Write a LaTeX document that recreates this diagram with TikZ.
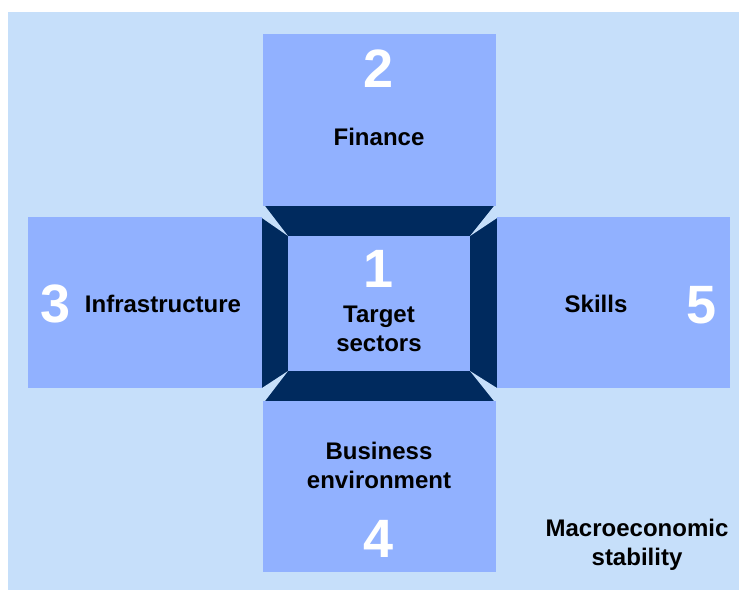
\documentclass[tikz,border=0pt]{standalone}
\usepackage{fontspec}
\setmainfont{Liberation Sans}
\usetikzlibrary{positioning}

\definecolor{bgblue}{HTML}{C6DFFA}
\definecolor{boxblue}{HTML}{91B1FF}
\definecolor{navy}{HTML}{002A5E}

\begin{document}
\begin{tikzpicture}[x=1pt,y=-1pt,every text node part/.style={align=center}]
  \tikzstyle{pillar}=[fill=boxblue,draw=none,inner sep=0pt,outer sep=0pt]
  \tikzstyle{label}=[inner sep=0pt,font=\fontsize{24}{29}\selectfont\bfseries,text=black]
  \tikzstyle{num}=[inner sep=0pt,anchor=base,font=\fontsize{54}{60}\selectfont\bfseries,text=white]
  \tikzstyle{gap}=[fill=bgblue,draw=none]

  \useasboundingbox (0,0) rectangle (739,590);
  \fill[bgblue] (8,12) rectangle (739,590);

  % centre frame
  \fill[navy] (262,206) rectangle (497,401);
  \fill[boxblue] (288,236) rectangle (470,371);
  \fill[gap] (262,206) -- (265,206) -- (288,236) -- (262,218) -- cycle;
  \fill[gap] (497,206) -- (494,206) -- (470,236) -- (497,218) -- cycle;
  \fill[gap] (262,401) -- (265,401) -- (288,371) -- (262,388) -- cycle;
  \fill[gap] (497,401) -- (494,401) -- (470,371) -- (497,388) -- cycle;

  % pillars
  \node [pillar,anchor=north west,minimum width=233pt,minimum height=172pt] (finance) at (263,34) {};
  \node [pillar,anchor=north west,minimum width=234pt,minimum height=171pt] (infra) at (28,217) {};
  \node [pillar,anchor=north west,minimum width=233pt,minimum height=171pt] (skills) at (497,217) {};
  \node [pillar,anchor=north west,minimum width=233pt,minimum height=171pt] (business) at (263,401) {};

  % numbers
  \node [num] (n1) at (379,287) {1};
  \node [num] (n2) at (379,87) {2};
  \node [num] (n3) at (56,322) {3};
  \node [num] (n4) at (379,557) {4};
  \node [num] (n5) at (702,323) {5};

  % texts
  \node [label,anchor=base] (tfinance) at (379,145) {Finance};
  \node [label] (ttarget) at (379,328.75) {Target\\sectors};
  \node [label,anchor=base] (tinfra) at (163,312) {Infrastructure};
  \node [label,anchor=base] (tskills) at (596,312) {Skills};
  \node [label] (tbusiness) at (379,465.75) {Business\\environment};
  \node [label] (tmacro) at (637,544.75) {Macroeconomic\\stability};
\end{tikzpicture}
\end{document}
